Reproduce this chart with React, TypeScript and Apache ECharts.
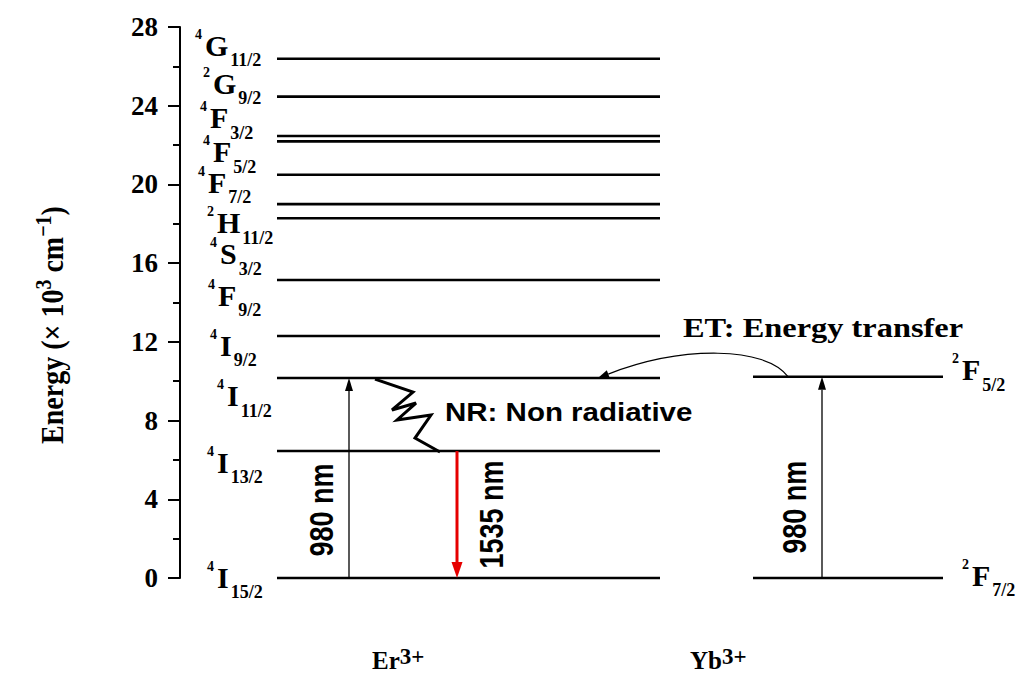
import { useEffect, useRef } from "react";
import * as echarts from "echarts";

const SERIF = '"Liberation Serif", "Times New Roman", serif';
const SANS = '"Liberation Sans", Arial, sans-serif';

// Energy axis (10^3 cm^-1)
const yMin = 0;
const yMax = 28;
const yStep = 4;

// Er3+ manifold: term symbol parts and level energies (10^3 cm^-1)
const erSup = ["4", "4", "4", "4", "4", "4", "2", "4", "4", "4", "2", "4"];
const erLetter = ["I", "I", "I", "I", "F", "S", "H", "F", "F", "F", "G", "G"];
const erSub = ["15/2", "13/2", "11/2", "9/2", "9/2", "3/2", "11/2", "7/2", "5/2", "3/2", "9/2", "11/2"];
const erEnergy = [0, 6.45, 10.16, 12.3, 15.14, 18.28, 19.0, 20.49, 22.19, 22.46, 24.46, 26.39];

// Yb3+ manifold
const ybSup = ["2", "2"];
const ybLetter = ["F", "F"];
const ybSub = ["7/2", "5/2"];
const ybEnergy = [0, 10.23];

// Horizontal layout (x units along a hidden axis)
const xMax = 843;
const erSpan = [97, 480];
const ybSpan = [573, 763];

// Term label anchors: x of the label start, energy at the centre of the main letter
const erLabelX = [27, 27, 37, 30, 28, 30, 27, 18, 23, 20, 23, 15];
const erLabelE = [0.05, 5.87, 9.25, 11.84, 14.38, 16.47, 18.04, 20.12, 21.65, 23.4, 25.15, 27.08];
const ybLabelX = [782, 772];
const ybLabelE = [0.15, 10.57];

// Radiative transitions: x position, from level, to level
const transName = ["980 nm", "1535 nm", "980 nm"];
const transX = [169, 277, 642];
const transFrom = [erEnergy[0], erEnergy[1], ybEnergy[0]];
const transTo = [erEnergy[2], erEnergy[0], ybEnergy[1]];
const transKind = ["pump", "emit", "pump"];
const transLabelDx = [-27, 35, -27];
const transLabelDy = [32, 0, 30];

// Non-radiative relaxation 4I11/2 -> 4I13/2 (zigzag vertices)
const nrX = [195, 233, 212, 236, 217, 251, 235, 260];
const nrE = [10.11, 9.45, 8.54, 8.89, 8.03, 8.28, 7.11, 6.4];

// Energy transfer Yb 2F5/2 -> Er 4I11/2
const etFromX = 608;
const etToX = 418;

const arrowStyle: Record<string, { color: string; width: number; head: number; half: number }> = {
  pump: { color: "#000", width: 1.3, head: 13, half: 4 },
  emit: { color: "#e60000", width: 3, head: 16, half: 5.5 },
};

// Times bold advance widths (em) of the term letters
const letterAdvance: Record<string, number> = { I: 0.389, F: 0.611, S: 0.556, H: 0.778, G: 0.778 };
const MAIN_SIZE = 30;
const SUB_SIZE = 18;
const SUP_SIZE = 14;

const piece = (text: string, x: number, y: number, size: number, lh: number) => ({
  type: "text",
  x,
  y,
  style: {
    text,
    fontFamily: SERIF,
    fontWeight: "bold",
    fontSize: size,
    lineHeight: lh,
    fill: "#000",
    align: "left",
    verticalAlign: "middle",
  },
});

export default function App() {
  const ref = useRef<HTMLDivElement>(null);

  useEffect(() => {
    const chart = echarts.init(ref.current!, null, { renderer: "svg" });

    const levelData = [
      ...erEnergy.map((e) => [erSpan[0], erSpan[1], e]),
      ...ybEnergy.map((e) => [ybSpan[0], ybSpan[1], e]),
    ];
    const termSup = [...erSup, ...ybSup];
    const termLetter = [...erLetter, ...ybLetter];
    const termSub = [...erSub, ...ybSub];
    const labelData = [
      ...erLabelX.map((x, i) => [x, erLabelE[i]]),
      ...ybLabelX.map((x, i) => [x, ybLabelE[i]]),
    ];
    const transData = transX.map((x, i) => [x, transFrom[i], transTo[i]]);
    const nrData = nrX.map((x, i) => [x, nrE[i]]);
    const etData = [[etFromX, ybEnergy[1], etToX, erEnergy[2]]];

    chart.setOption({
      animation: false,
      backgroundColor: "#ffffff",
      grid: { left: 180, right: 0, top: 27, bottom: 97, containLabel: false },
      xAxis: { type: "value", min: 0, max: xMax, show: false },
      yAxis: {
        type: "value",
        min: yMin,
        max: yMax,
        interval: yStep,
        axisLine: { show: true, lineStyle: { color: "#000", width: 2 } },
        axisTick: { show: true, inside: false, length: 12, lineStyle: { color: "#000", width: 2 } },
        minorTick: { show: true, splitNumber: 2, length: 7, lineStyle: { color: "#000", width: 2 } },
        splitLine: { show: false },
        minorSplitLine: { show: false },
        axisLabel: {
          color: "#000",
          fontFamily: SERIF,
          fontWeight: "bold",
          fontSize: 27,
          margin: 22,
        },
      },
      series: [
        {
          type: "custom",
          name: "levels",
          clip: false,
          silent: true,
          data: levelData,
          encode: { x: [0, 1], y: 2 },
          renderItem: (params: any, api: any) => {
            const a = api.coord([api.value(0), api.value(2)]);
            const b = api.coord([api.value(1), api.value(2)]);
            return {
              type: "line",
              shape: { x1: a[0], y1: a[1], x2: b[0], y2: b[1] },
              style: { stroke: "#000", lineWidth: 2.6 },
            };
          },
        },
        {
          type: "custom",
          name: "terms",
          clip: false,
          silent: true,
          data: labelData,
          encode: { x: 0, y: 1 },
          renderItem: (params: any, api: any) => {
            const i = params.dataIndex;
            const p = api.coord([api.value(0), api.value(1)]);
            const letter = termLetter[i];
            const mainX = p[0] + 10;
            const subX = mainX + letterAdvance[letter] * MAIN_SIZE + 2;
            return {
              type: "group",
              children: [
                piece(termSup[i], p[0], p[1] - 11, SUP_SIZE, 11),
                piece(letter, mainX, p[1], MAIN_SIZE, 22),
                piece(termSub[i], subX, p[1] + 15, SUB_SIZE, 13),
              ],
            };
          },
        },
        {
          type: "custom",
          name: "transitions",
          clip: false,
          silent: true,
          data: transData,
          encode: { x: 0, y: [1, 2] },
          renderItem: (params: any, api: any) => {
            const i = params.dataIndex;
            const st = arrowStyle[transKind[i]];
            const p1 = api.coord([api.value(0), api.value(1)]);
            const p2 = api.coord([api.value(0), api.value(2)]);
            const dir = p2[1] > p1[1] ? 1 : -1;
            const base = p2[1] - dir * st.head;
            return {
              type: "group",
              children: [
                {
                  type: "line",
                  shape: { x1: p1[0], y1: p1[1], x2: p2[0], y2: base },
                  style: { stroke: st.color, lineWidth: st.width },
                },
                {
                  type: "polygon",
                  shape: { points: [[p2[0], p2[1]], [p2[0] - st.half, base], [p2[0] + st.half, base]] },
                  style: { fill: st.color },
                },
                {
                  type: "text",
                  x: p1[0] + transLabelDx[i],
                  y: (p1[1] + p2[1]) / 2 + transLabelDy[i],
                  rotation: Math.PI / 2,
                  scaleY: 1.2,
                  style: {
                    text: transName[i],
                    fontFamily: SANS,
                    fontWeight: "bold",
                    fontSize: 27,
                    fill: "#000",
                    align: "center",
                    verticalAlign: "middle",
                  },
                },
              ],
            };
          },
        },
        {
          type: "custom",
          name: "non-radiative",
          clip: false,
          silent: true,
          data: [0],
          renderItem: (params: any, api: any) => {
            const pts = nrData.map((d) => api.coord(d));
            return {
              type: "polyline",
              shape: { points: pts },
              style: { stroke: "#000", lineWidth: 3, fill: null, lineJoin: "miter" },
            };
          },
        },
        {
          type: "custom",
          name: "energy transfer",
          clip: false,
          silent: true,
          data: etData,
          encode: { x: [0, 2], y: [1, 3] },
          renderItem: (params: any, api: any) => {
            const p1 = api.coord([api.value(0), api.value(1)]);
            const p2 = api.coord([api.value(2), api.value(3)]);
            const c1 = [p1[0] - 22, p1[1] - 30];
            const c2 = [p2[0] + 85, p2[1] - 33];
            const dx = p2[0] - c2[0];
            const dy = p2[1] - c2[1];
            const len = Math.hypot(dx, dy);
            const ux = dx / len;
            const uy = dy / len;
            const head = 11;
            const half = 4;
            const bx = p2[0] - ux * head;
            const by = p2[1] - uy * head;
            return {
              type: "group",
              children: [
                {
                  type: "bezierCurve",
                  shape: {
                    x1: p1[0], y1: p1[1],
                    cpx1: c1[0], cpy1: c1[1],
                    cpx2: c2[0], cpy2: c2[1],
                    x2: bx, y2: by,
                  },
                  style: { stroke: "#000", lineWidth: 1.2, fill: null },
                },
                {
                  type: "polygon",
                  shape: {
                    points: [
                      [p2[0], p2[1]],
                      [bx - uy * half, by + ux * half],
                      [bx + uy * half, by - ux * half],
                    ],
                  },
                  style: { fill: "#000" },
                },
              ],
            };
          },
        },
      ],
      graphic: [
        {
          type: "text",
          x: 52,
          y: 325,
          rotation: Math.PI / 2,
          scaleY: 1.15,
          style: {
            text: "Energy (× 10{sup|3} cm{sup|−1})",
            fontFamily: SERIF,
            fontWeight: "bold",
            fontSize: 28,
            lineHeight: 34,
            fill: "#000",
            align: "center",
            verticalAlign: "middle",
            rich: {
              sup: { fontFamily: SERIF, fontWeight: "bold", fontSize: 20, lineHeight: 20, verticalAlign: "top", fill: "#000" },
            },
          },
        },
        {
          type: "text",
          x: 445,
          y: 412,
          scaleX: 1.18,
          style: {
            text: "NR: Non radiative",
            fontFamily: SANS,
            fontWeight: "bold",
            fontSize: 25,
            fill: "#000",
            align: "left",
            verticalAlign: "middle",
          },
        },
        {
          type: "text",
          x: 683,
          y: 327,
          scaleX: 1.2,
          style: {
            text: "ET: Energy transfer",
            fontFamily: SERIF,
            fontWeight: "bold",
            fontSize: 27,
            fill: "#000",
            align: "left",
            verticalAlign: "middle",
          },
        },
        {
          type: "text",
          x: 372,
          y: 660,
          style: {
            text: "Er{sup|3+}",
            fontFamily: SERIF,
            fontWeight: "bold",
            fontSize: 25,
            lineHeight: 30,
            fill: "#000",
            align: "left",
            verticalAlign: "middle",
            rich: {
              sup: { fontFamily: SERIF, fontWeight: "bold", fontSize: 23, lineHeight: 21, verticalAlign: "top", fill: "#000" },
            },
          },
        },
        {
          type: "text",
          x: 690,
          y: 660,
          style: {
            text: "Yb{sup|3+}",
            fontFamily: SERIF,
            fontWeight: "bold",
            fontSize: 25,
            lineHeight: 30,
            fill: "#000",
            align: "left",
            verticalAlign: "middle",
            rich: {
              sup: { fontFamily: SERIF, fontWeight: "bold", fontSize: 23, lineHeight: 21, verticalAlign: "top", fill: "#000" },
            },
          },
        },
      ],
    });

    return () => chart.dispose();
  }, []);

  return (
    <div
      ref={ref}
      style={{ position: "absolute", left: 0, top: 0, width: 1023, height: 675, background: "#fff" }}
    />
  );
}
